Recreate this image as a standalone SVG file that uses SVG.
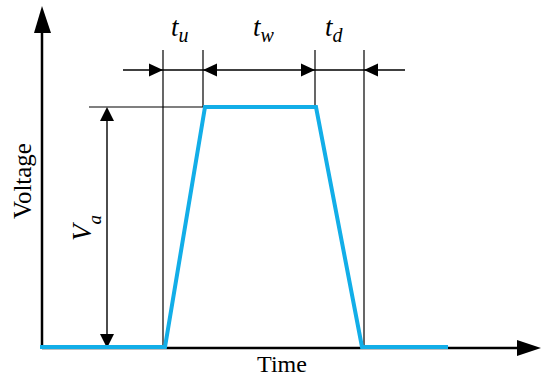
<svg xmlns="http://www.w3.org/2000/svg" width="550" height="382" viewBox="0 0 550 382">
<defs>
<style>
.axis{stroke:#000;stroke-width:2.5;fill:none}
.thin{stroke:#000;stroke-width:1.2;fill:none}
.dim{stroke:#000;stroke-width:1.4;fill:none}
.sig{stroke:#12aee8;stroke-width:4;fill:none;stroke-linejoin:miter}
.lbl{font-family:"Liberation Serif",serif;fill:#000}
.it{font-family:"Liberation Serif",serif;font-style:italic;fill:#000}
</style>
</defs>
<rect width="550" height="382" fill="#fff"/>
<g id="connectors">
<line class="thin" x1="163" y1="50" x2="163" y2="348"/>
<line class="thin" x1="203" y1="50" x2="203" y2="107"/>
<line class="thin" x1="315" y1="50" x2="315" y2="107"/>
<line class="thin" x1="364" y1="50" x2="364" y2="348"/>
<line class="thin" x1="89" y1="107" x2="205" y2="107"/>
<line class="dim" x1="123" y1="70" x2="405" y2="70"/>
<polygon points="163,70 149,63.5 149,76.5"/>
<polygon points="203,70 217,63.5 217,76.5"/>
<polygon points="315,70 301,63.5 301,76.5"/>
<polygon points="364,70 378,63.5 378,76.5"/>
<line class="dim" x1="107" y1="110" x2="107" y2="345"/>
<polygon points="107,107 100,121 114,121"/>
<polygon points="107,348 100,334 114,334"/>
</g>
<g id="axes">
<line class="axis" x1="42" y1="349" x2="42" y2="28"/>
<polygon points="42,6 34,33 51,33"/>
<line class="axis" x1="42" y1="348" x2="520" y2="348"/>
<polygon points="541,348 517,340 517,356"/>
</g>
<g id="signal">
<polyline class="sig" points="40,347 165,347 205,107 316,107 362,347 448,347"/>
</g>
<g id="labels">
<text class="lbl" x="282" y="372" font-size="24" text-anchor="middle">Time</text>
<text class="lbl" transform="translate(31,181) rotate(-90)" font-size="25" text-anchor="middle">Voltage</text>
<text class="it" transform="translate(91,228) rotate(-90)" font-size="27" text-anchor="middle">V<tspan font-size="19" dy="10">a</tspan></text>
<text class="it" x="171" y="36" font-size="27">t<tspan font-size="20" dy="6">u</tspan></text>
<text class="it" x="253" y="36" font-size="27">t<tspan font-size="20" dy="6">w</tspan></text>
<text class="it" x="325" y="36" font-size="27">t<tspan font-size="20" dy="6">d</tspan></text>
</g>
</svg>
